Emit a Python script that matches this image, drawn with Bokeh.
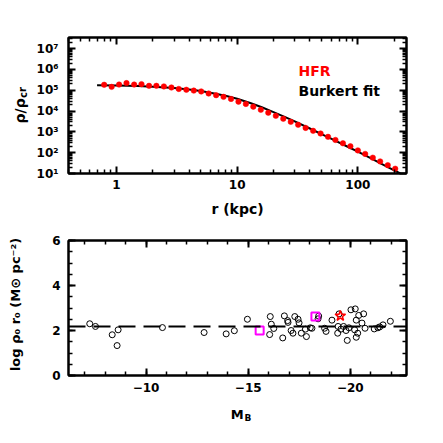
from bokeh.plotting import figure
from bokeh.models import Range1d, FixedTicker, LogAxis, LinearAxis, Label, CustomJSTickFormatter, Span
from bokeh.layouts import column, row
from bokeh.embed import file_html
from bokeh.resources import INLINE

# ---------------- data ----------------
hfr_r = [0.79, 0.911, 1.05, 1.21, 1.40, 1.61, 1.86, 2.14, 2.47, 2.85, 3.28, 3.79, 4.37, 5.03,
         5.80, 6.69, 7.71, 8.89, 10.25, 11.8, 13.6, 15.7, 18.1, 20.9, 24.1, 27.8, 32.0, 36.9,
         42.6, 49.1, 56.6, 65.2, 75.2, 86.7, 100, 115, 133, 153, 177, 204]
hfr_logrho = [5.26, 5.16, 5.27, 5.34, 5.27, 5.29, 5.21, 5.21, 5.18, 5.13, 5.06, 5.02, 4.98, 4.94,
              4.84, 4.76, 4.68, 4.58, 4.45, 4.34, 4.21, 4.06, 3.92, 3.77, 3.63, 3.48, 3.34, 3.19,
              3.05, 2.92, 2.76, 2.61, 2.45, 2.31, 2.11, 1.94, 1.76, 1.58, 1.40, 1.23]

fit_r = [0.69, 1.0, 1.5, 2.0, 3.0, 4.0, 5.0, 6.0, 8.0, 10, 13, 16, 20, 25, 30, 40, 50, 60, 80,
         100, 130, 160, 200, 225]
fit_logrho = [5.24, 5.23, 5.20, 5.17, 5.10, 5.03, 4.96, 4.88, 4.73, 4.59, 4.37, 4.18, 3.95, 3.71,
              3.50, 3.16, 2.89, 2.67, 2.32, 2.05, 1.71, 1.44, 1.15, 1.00]

mb = [-7.24, -7.52, -8.34, -8.58, -8.63, -10.80, -12.84, -13.92, -14.32, -14.96, -16.05, -16.08,
      -16.13, -16.25, -16.69, -16.77, -16.93, -16.95, -17.10, -17.19, -17.28, -17.44, -17.49,
      -17.60, -17.80, -17.85, -18.04, -18.12, -18.42, -18.45, -18.74, -18.81, -19.10, -19.38,
      -19.40, -19.45, -19.54, -19.67, -19.79, -19.85, -19.93, -20.03, -20.21, -20.24, -20.29,
      -20.29, -20.36, -20.41, -20.57, -20.65, -20.72, -21.17, -21.35, -21.44, -21.60, -21.96]
logsurf = [2.30, 2.18, 1.81, 1.33, 2.03, 2.13, 1.91, 1.85, 1.99, 2.50, 1.82, 2.62, 2.28, 2.09,
           1.67, 2.65, 2.44, 2.36, 2.00, 1.88, 2.62, 2.50, 2.34, 1.88, 2.06, 1.73, 2.12, 2.10,
           2.52, 2.64, 2.10, 1.96, 2.46, 1.88, 2.18, 2.74, 2.06, 2.18, 2.00, 1.56, 2.12, 2.92,
           2.03, 2.96, 2.46, 1.70, 1.88, 2.67, 2.33, 2.74, 2.10, 2.07, 2.12, 2.16, 2.25, 2.41]
sq_mb = [-15.56, -18.29]
sq_logsurf = [2.00, 2.62]
star_mb = [-19.51]
star_logsurf = [2.65]
mean_logsurf = 2.18

top_x_ticks = [1, 10, 100]
top_y_ticks = [1e1, 1e2, 1e3, 1e4, 1e5, 1e6, 1e7]
bot_x_ticks = [-10, -15, -20]
bot_y_ticks = [0, 2, 4, 6]

FONT = "DejaVu Sans"

top_x_minor = [m * 10.0 ** k for k in (-1, 0, 1, 2) for m in range(2, 10)]
top_y_minor = [m * 10.0 ** k for k in range(1, 8) for m in range(2, 10)]
bot_x_minor = [float(v) for v in range(-6, -23, -1)]
bot_y_minor = [0.5 * i for i in range(13)]

blank = CustomJSTickFormatter(code="return '';")
sup_fmt = CustomJSTickFormatter(code="""
const sup = {'0':'\u2070','1':'\u00b9','2':'\u00b2','3':'\u00b3','4':'\u2074','5':'\u2075',
             '6':'\u2076','7':'\u2077','8':'\u2078','9':'\u2079','-':'\u207b'};
const e = Math.round(Math.log10(tick));
return '10' + String(e).split('').map(c => sup[c]).join('');
""")
minus_fmt = CustomJSTickFormatter(code="return tick < 0 ? '\u2212' + Math.abs(tick) : String(tick);")
int_fmt = CustomJSTickFormatter(code="return String(Math.round(tick));")


def style(ax, ticks, minor, fmt, standoff=6):
    ax.ticker = FixedTicker(ticks=ticks, minor_ticks=minor)
    ax.major_tick_in = 7
    ax.major_tick_out = 0
    ax.minor_tick_in = 4
    ax.minor_tick_out = 0
    ax.major_tick_line_width = 2
    ax.minor_tick_line_width = 1.5
    ax.axis_line_width = 2
    ax.axis_line_color = "black"
    ax.major_tick_line_color = "black"
    ax.minor_tick_line_color = "black"
    ax.formatter = fmt
    ax.major_label_standoff = standoff
    ax.major_label_text_font = FONT
    ax.major_label_text_font_style = "bold"
    ax.major_label_text_font_size = "12px"
    ax.major_label_text_color = "black"
    ax.axis_label = None


def lab(p, x, y, text, size="14px", angle=0.0, align="left", baseline="alphabetic", color="black"):
    p.add_layout(Label(x=x, y=y, text=text, angle=angle,
                       text_align=align, text_baseline=baseline, text_color=color,
                       text_font=FONT, text_font_style="bold", text_font_size=size))


def strip(w, h):
    s = figure(width=w, height=h, x_range=Range1d(0, w), y_range=Range1d(0, h),
               x_axis_location=None, y_axis_location=None,
               output_backend="svg", toolbar_location=None,
               min_border_left=0, min_border_right=0, min_border_top=0, min_border_bottom=0)
    s.outline_line_color = None
    s.xgrid.visible = False
    s.ygrid.visible = False
    s.grid.grid_line_color = None
    return s


# ---------------- top panel ----------------
p1 = figure(width=405, height=228, x_axis_type="log", y_axis_type="log",
            x_range=Range1d(0.40, 253), y_range=Range1d(10, 10 ** 7.53),
            output_backend="svg", toolbar_location=None,
            min_border_left=38, min_border_right=29, min_border_top=37, min_border_bottom=55)
p1.grid.visible = False
p1.outline_line_color = "black"
p1.outline_line_width = 2

style(p1.xaxis[0], top_x_ticks, top_x_minor, int_fmt, standoff=6)
style(p1.yaxis[0], top_y_ticks, top_y_minor, sup_fmt, standoff=10)
p1.xaxis[0].axis_label = "r (kpc)"
p1.xaxis[0].axis_label_text_font = FONT
p1.xaxis[0].axis_label_text_font_style = "bold"
p1.xaxis[0].axis_label_text_font_size = "14px"
p1.xaxis[0].axis_label_text_color = "black"
p1.xaxis[0].axis_label_standoff = 9
ax_r = LogAxis()
style(ax_r, top_y_ticks, top_y_minor, blank)
p1.add_layout(ax_r, "right")
ax_t = LogAxis()
style(ax_t, top_x_ticks, top_x_minor, blank)
p1.add_layout(ax_t, "above")

p1.line(fit_r, [10 ** v for v in fit_logrho], line_color="black", line_width=2)
p1.scatter(hfr_r, [10 ** v for v in hfr_logrho], marker="circle", size=5.5,
           fill_color="red", line_color="red", line_width=0.5)

lab(p1, 32.2, 10 ** 5.93, "HFR", color="red")
lab(p1, 32.2, 10 ** 4.97, "Burkert fit")

# ---------------- bottom panel ----------------
p2 = figure(width=405, height=172, x_range=Range1d(-6.2, -22.75), y_range=Range1d(0, 6),
            output_backend="svg", toolbar_location=None,
            min_border_left=38, min_border_right=29, min_border_top=12, min_border_bottom=25)
p2.grid.visible = False
p2.outline_line_color = "black"
p2.outline_line_width = 2

style(p2.xaxis[0], bot_x_ticks, bot_x_minor, minus_fmt, standoff=7)
style(p2.yaxis[0], bot_y_ticks, bot_y_minor, int_fmt, standoff=8)
ax_r2 = LinearAxis()
style(ax_r2, bot_y_ticks, bot_y_minor, blank)
p2.add_layout(ax_r2, "right")
ax_t2 = LinearAxis()
style(ax_t2, bot_x_ticks, bot_x_minor, blank)
p2.add_layout(ax_t2, "above")

p2.add_layout(Span(location=mean_logsurf, dimension="width", line_color="black",
                   line_width=2, line_dash="17 8"))
p2.scatter(mb, logsurf, marker="circle", size=6, fill_color=None, line_color="black",
           line_width=1)
p2.scatter(sq_mb, sq_logsurf, marker="square", size=8, fill_color=None, line_color="#ff00ff",
           line_width=2)
p2.scatter(star_mb, star_logsurf, marker="star", size=11, fill_color=None, line_color="red",
           line_width=1.5)

# ---------------- label strips (text outside the frames) ----------------
L = strip(30, 435)
lab(L, 19.5, 312, "\u03c1/\u03c1", angle=1.5708)
lab(L, 22.5, 337.5, "cr", size="10px", angle=1.5708)
lab(L, 15, 131, "log \u03c1\u2080 r\u2080 (M\u2299 pc\u207b\u00b2)", size="13px", angle=1.5708,
    align="center", baseline="middle")

B = strip(405, 35)
lab(B, 210, 21, "M", size="13px", align="right")
lab(B, 211, 18, "B", size="9px", align="left")

layout = row(L, column(p1, p2, B, spacing=0), spacing=0)
open("out.html", "w").write(file_html(layout, INLINE))
